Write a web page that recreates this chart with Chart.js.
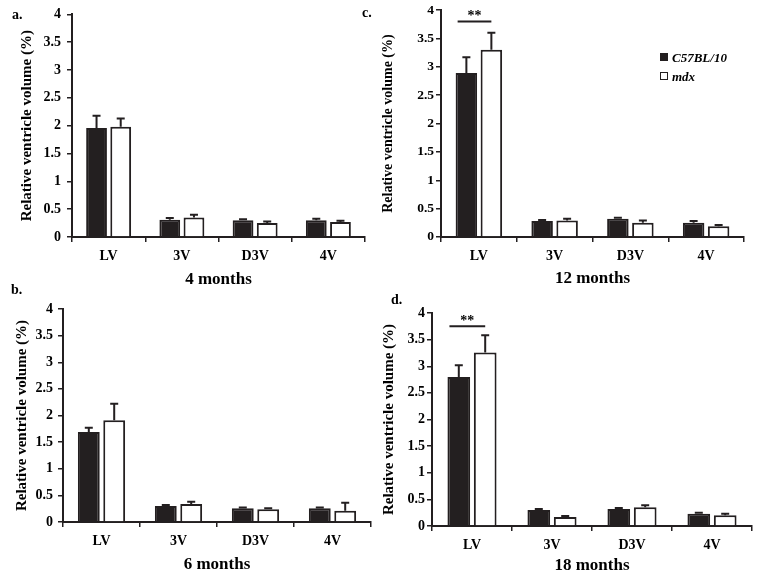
<!DOCTYPE html>
<html>
<head>
<meta charset="utf-8">
<script src="https://cdn.jsdelivr.net/npm/chart.js@4"></script>
<style>
  html, body { margin: 0; padding: 0; background: #fff; overflow: hidden; width: 763px; height: 572px; }
  canvas { position: absolute; }
  .lbl { position: absolute; font: bold 14px "Liberation Serif", serif; color: #000; line-height: 16px; }
  .legend { position: absolute; left: 660px; top: 50px; font: italic bold 13px "Liberation Serif", serif; color: #000; }
  .legend div { height: 19px; line-height: 16px; white-space: nowrap; }
  .legend span { display: inline-block; width: 6px; height: 6px; border: 1px solid #231f20; margin-right: 4px; vertical-align: 1px; }
</style>
</head>
<body>
<canvas id="chartA" width="380" height="290" style="left:0;top:0"></canvas>
<canvas id="chartB" width="380" height="292" style="left:0;top:282px"></canvas>
<canvas id="chartC" width="383" height="290" style="left:380px;top:0"></canvas>
<canvas id="chartD" width="383" height="290" style="left:380px;top:286px"></canvas>

<div class="lbl" style="left:12px;top:7px">a.</div>
<div class="lbl" style="left:11px;top:282px">b.</div>
<div class="lbl" style="left:362px;top:5px">c.</div>
<div class="lbl" style="left:391px;top:292px">d.</div>

<div class="legend">
  <div><span style="background:#231f20"></span>C57BL/10</div>
  <div><span style="background:#fff"></span>mdx</div>
</div>

<script>
const categories = ['LV', '3V', 'D3V', '4V'];
const seriesNames = ['C57BL/10', 'mdx'];
const panelTitles = ['4 months', '6 months', '12 months', '18 months'];
const yAxisTitle = 'Relative ventricle volume (%)';

// 4 months
const wt4 = [1.96, 0.31, 0.30, 0.30];
const wt4Err = [0.22, 0.03, 0.02, 0.03];
const mdx4 = [1.98, 0.35, 0.25, 0.27];
const mdx4Err = [0.15, 0.05, 0.03, 0.02];
// 6 months
const wt6 = [1.69, 0.30, 0.26, 0.26];
const wt6Err = [0.08, 0.02, 0.01, 0.01];
const mdx6 = [1.91, 0.34, 0.24, 0.21];
const mdx6Err = [0.31, 0.04, 0.02, 0.15];
// 12 months
const wt12 = [2.89, 0.28, 0.32, 0.25];
const wt12Err = [0.28, 0.02, 0.02, 0.03];
const mdx12 = [3.30, 0.29, 0.25, 0.19];
const mdx12Err = [0.30, 0.03, 0.04, 0.02];
// 18 months
const wt18 = [2.80, 0.30, 0.32, 0.23];
const wt18Err = [0.22, 0.02, 0.02, 0.02];
const mdx18 = [3.26, 0.17, 0.35, 0.20];
const mdx18Err = [0.32, 0.02, 0.04, 0.03];

// significance bar over LV (null = none)
const sigLevel = [null, null, 3.8, 3.75];
const sigText = '**';

const FONT = '"Liberation Serif", "Times New Roman", serif';
const INK = '#231f20';

const errorBars = {
  id: 'errorBars',
  afterDatasetsDraw(chart) {
    const ctx = chart.ctx;
    const y = chart.scales.y;
    chart.data.datasets.forEach((ds, i) => {
      const meta = chart.getDatasetMeta(i);
      meta.data.forEach((bar, j) => {
        const top = y.getPixelForValue(ds.data[j] + ds.errors[j]);
        ctx.save();
        ctx.strokeStyle = INK;
        ctx.lineWidth = 2;
        ctx.beginPath();
        ctx.moveTo(bar.x, bar.y);
        ctx.lineTo(bar.x, top);
        ctx.moveTo(bar.x - 4, top);
        ctx.lineTo(bar.x + 4, top);
        ctx.stroke();
        ctx.restore();
      });
    });
  }
};

const sigMark = {
  id: 'sigMark',
  afterDatasetsDraw(chart, args, opts) {
    if (opts.value == null) return;
    const ctx = chart.ctx;
    const b0 = chart.getDatasetMeta(0).data[0];
    const b1 = chart.getDatasetMeta(1).data[0];
    const yy = chart.scales.y.getPixelForValue(opts.value);
    const x0 = b0.x - b0.width / 2 + 2;
    const x1 = b1.x;
    ctx.save();
    ctx.strokeStyle = INK;
    ctx.lineWidth = 2;
    ctx.beginPath();
    ctx.moveTo(x0, yy);
    ctx.lineTo(x1, yy);
    ctx.stroke();
    ctx.fillStyle = '#000';
    ctx.font = 'bold 14px ' + FONT;
    ctx.textAlign = 'center';
    ctx.textBaseline = 'alphabetic';
    ctx.fillText(sigText, (x0 + x1) / 2, yy - 1);
    ctx.restore();
  }
};

function makePanel(id, idx, wt, wtErr, mdx, mdxErr, lay) {
  new Chart(document.getElementById(id), {
    type: 'bar',
    data: {
      labels: categories,
      datasets: [{
        label: seriesNames[0],
        data: wt,
        errors: wtErr,
        backgroundColor: INK,
        borderColor: INK,
        borderWidth: 2
      }, {
        label: seriesNames[1],
        data: mdx,
        errors: mdxErr,
        backgroundColor: '#fff',
        borderColor: INK,
        borderWidth: 2
      }]
    },
    options: {
      responsive: false,
      devicePixelRatio: 1,
      animation: false,
      categoryPercentage: 0.66,
      barPercentage: 0.86,
      layout: { padding: { left: 0, right: lay.right, top: lay.top, bottom: 0 } },
      plugins: {
        legend: { display: false },
        tooltip: { enabled: false },
        sigMark: { value: sigLevel[idx] }
      },
      scales: {
        x: {
          afterFit: s => { s.height = lay.xh; },
          grid: { display: true, drawOnChartArea: false, color: INK, lineWidth: 1.5, tickLength: 5 },
          border: { display: true, color: INK, width: 2 },
          ticks: { color: '#000', padding: 6, font: { family: FONT, size: 14, weight: 'bold' } },
          title: {
            display: true,
            text: panelTitles[idx],
            color: '#000',
            padding: { top: 0, bottom: lay.tb },
            font: { family: FONT, size: 17, weight: 'bold', lineHeight: 1 }
          }
        },
        y: {
          min: 0,
          max: 4,
          afterFit: s => { s.width = lay.yw; },
          grid: { display: true, drawOnChartArea: false, color: INK, lineWidth: 1.5, tickLength: 5 },
          border: { display: true, color: INK, width: 2 },
          ticks: {
            stepSize: 0.5,
            color: '#000',
            padding: lay.tkp,
            callback: v => String(v),
            font: { family: FONT, size: lay.tfs, weight: 'bold' }
          },
          title: {
            display: true,
            text: yAxisTitle,
            color: '#000',
            padding: { top: lay.tp, bottom: 0 },
            font: { family: FONT, size: lay.fs, weight: 'bold', lineHeight: 1.2 }
          }
        }
      }
    },
    plugins: [errorBars, sigMark]
  });
}

makePanel('chartA', 0, wt4, wt4Err, mdx4, mdx4Err, { right: 15, top: 10, xh: 53, tb: 2, yw: 72, tp: 18.5, fs: 15, tfs: 14, tkp: 6 });
makePanel('chartB', 1, wt6, wt6Err, mdx6, mdx6Err, { right: 9, top: 27, xh: 52, tb: 1, yw: 63, tp: 13, fs: 15, tfs: 14, tkp: 5 });
makePanel('chartC', 2, wt12, wt12Err, mdx12, mdx12Err, { right: 19, top: 10, xh: 53, tb: 2.5, yw: 61, tp: 0, fs: 14, tfs: 13.5, tkp: 2 });
makePanel('chartD', 3, wt18, wt18Err, mdx18, mdx18Err, { right: 11, top: 27, xh: 50, tb: 1.5, yw: 52, tp: 0, fs: 15, tfs: 14, tkp: 2 });
</script>
</body>
</html>
